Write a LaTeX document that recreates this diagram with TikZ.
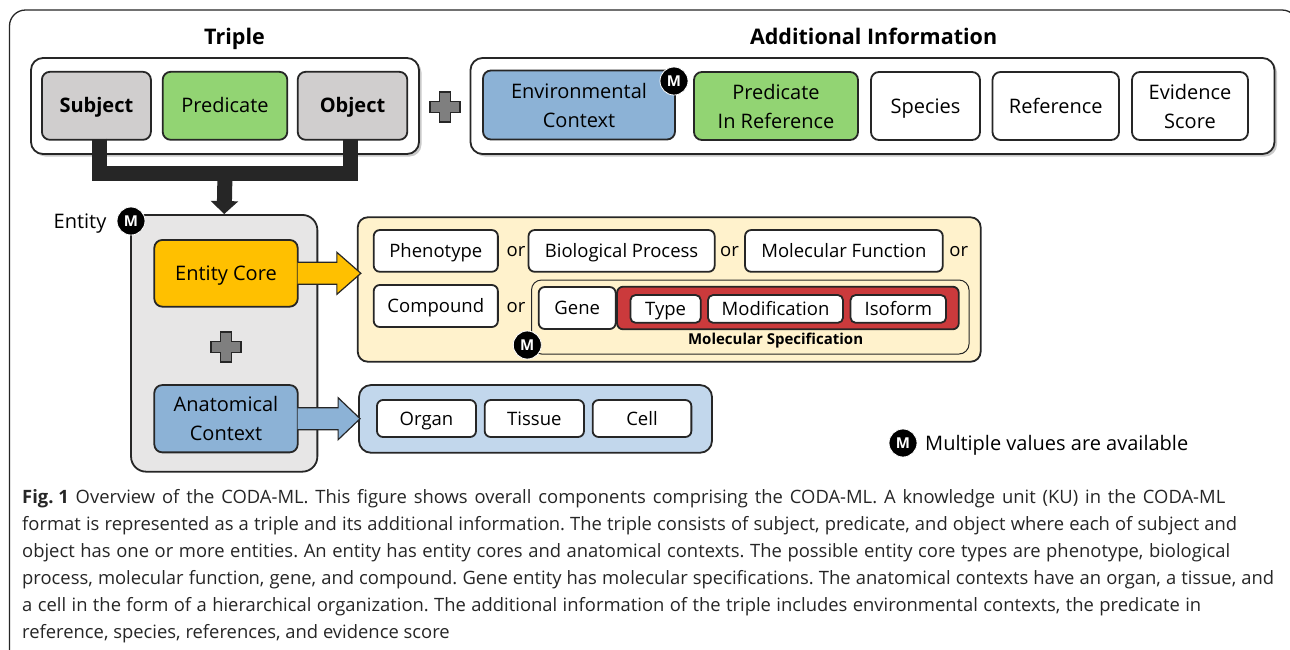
\documentclass[tikz,border=0pt]{standalone}
\usepackage{fontspec}
\setmainfont{Open Sans}
\usetikzlibrary{calc,arrows.meta,shadows}
\definecolor{dk}{RGB}{38,38,38}
\definecolor{gbox}{RGB}{208,206,206}
\definecolor{grn}{RGB}{146,212,115}
\definecolor{blu}{RGB}{140,178,214}
\definecolor{org}{RGB}{255,192,0}
\definecolor{entg}{RGB}{231,230,230}
\definecolor{ylw}{RGB}{255,242,204}
\definecolor{lblu}{RGB}{194,215,236}
\definecolor{rd}{RGB}{203,58,60}
\definecolor{plg}{RGB}{127,127,127}
\frenchspacing
\begin{document}
\begin{tikzpicture}[x=1pt,y=-1pt,
  box/.style={draw=dk, line width=1.8pt, rounded corners=8pt, align=center, inner sep=0pt, font=\fontsize{20}{29}\selectfont},
  oneline/.style={text height=14.3pt, text depth=0pt},
  sbox/.style={box, fill=white, font=\fontsize{18.5}{22}\selectfont, rounded corners=6pt, text height=13.2pt, text depth=0pt},
  mbadge/.style={circle, fill=black, draw=white, line width=0.8pt, minimum size=28pt, inner sep=0pt, text=white, font=\fontsize{15}{15}\selectfont\bfseries},
  ortext/.style={font=\fontsize{18.5}{20}\selectfont, inner sep=0pt, text height=10pt, text depth=0pt},
  title/.style={font=\fontsize{21.5}{24}\selectfont\bfseries, inner sep=0pt, text height=15.4pt, text depth=0pt},
  shad/.style={drop shadow={shadow xshift=2.5pt, shadow yshift=-2.5pt, opacity=0.35, fill=black!60}},
  capline/.style={anchor=base west, inner sep=0pt, font=\fontsize{18.4}{22}\selectfont\frenchspacing, text=black!85},
  plussign/.pic={\filldraw[fill=plg, draw=dk, line width=1.2pt] (-5.5,-15) -- (5.5,-15) -- (5.5,-5.5) -- (15,-5.5) -- (15,5.5) -- (5.5,5.5) -- (5.5,15) -- (-5.5,15) -- (-5.5,5.5) -- (-15,5.5) -- (-15,-5.5) -- (-5.5,-5.5) -- cycle;},
  blockarrow/.style={draw=dk, line width=1.2pt, line join=miter}
]
\useasboundingbox (0,0) rectangle (1290,649);
\fill[white] (0,0) rectangle (1290,649);
% outer frame
\draw[line width=1.3pt, draw=dk, rounded corners=16pt] (9.5,10) rectangle (1298,680);

% titles
\node[title] (ttriple) at (234.5,37) {Triple};
\node[title] (taddl) at (873.6,37) {Additional Information};

% triple group
\node[box, fill=white, shad, minimum width=388pt, minimum height=96pt, rounded corners=12pt] (triple) at (225,106) {};
\coordinate (jn) at (225,173);
\node[box, oneline, fill=gbox, minimum width=109pt, minimum height=68pt, font=\fontsize{20}{29}\selectfont\bfseries] (subject) at (96.4,105.8) {Subject};
\node[box, oneline, fill=grn, minimum width=124.6pt, minimum height=68pt] (predicate) at (225,105.8) {Predicate};
\node[box, oneline, fill=gbox, minimum width=109.6pt, minimum height=68pt, font=\fontsize{20}{29}\selectfont\bfseries] (object) at (352.5,105.8) {Object};

\pic at (445,107) {plussign};

% additional info group
\node[box, fill=white, shad, minimum width=804pt, minimum height=96pt, rounded corners=12pt] (addl) at (872.5,106) {};
\node[box, fill=blu, minimum width=192pt, minimum height=69pt] (env) at (579,105) {Environmental\\Context};
\node[mbadge] (menv) at (674,81) {M};
\node[box, fill=grn, minimum width=164pt, minimum height=68pt] (predref) at (776,106) {Predicate\\In Reference};
\node[box, oneline, fill=white, minimum width=109pt, minimum height=68pt] (species) at (925.5,106) {Species};
\node[box, oneline, fill=white, minimum width=126.5pt, minimum height=68pt] (reference) at (1055.75,106) {Reference};
\node[box, fill=white, minimum width=116pt, minimum height=68pt] (evidence) at (1190,106) {Evidence\\Score};

% entity
\node[box, fill=entg, minimum width=186.3pt, minimum height=256.7pt, rounded corners=15pt] (entity) at (224.2,343.3) {};
\node[inner sep=0pt, oneline, font=\fontsize{20}{24}\selectfont] (entlabel) at (80,221) {Entity};
\node[mbadge] (ment) at (131,221) {M};
\node[box, oneline, fill=org, minimum width=143.4pt, minimum height=66.7pt] (core) at (226,273.3) {Entity Core};
\pic at (226,347) {plussign};
\node[box, fill=blu, minimum width=143.4pt, minimum height=67.3pt] (anat) at (226,418.7) {Anatomical\\Context};

% yellow box
\node[box, fill=ylw, minimum width=622.9pt, minimum height=144.4pt, rounded corners=10pt] (yellow) at (669.2,289.5) {};
\node[sbox, minimum width=124.1pt, minimum height=41.7pt] (pheno) at (435.8,250.9) {Phenotype};
\node[ortext] (or1) at (516,251) {or};
\node[sbox, minimum width=186.1pt, minimum height=41.7pt] (bioproc) at (621.6,250.9) {Biological Process};
\node[ortext] (or2) at (729.5,251) {or};
\node[sbox, minimum width=197.7pt, minimum height=41.7pt] (molfunc) at (843.9,250.9) {Molecular Function};
\node[ortext] (or3) at (958.7,251) {or};
\node[sbox, minimum width=124.1pt, minimum height=42pt] (compound) at (435.8,306) {Compound};
\node[ortext] (or4) at (516,307) {or};
\node[draw=dk, line width=1pt, fill=ylw, rounded corners=10pt, minimum width=437.5pt, minimum height=74pt, inner sep=0pt] (genegrp) at (750.25,317) {};
\node[sbox, minimum width=77pt, minimum height=42pt] (gene) at (577.2,308) {Gene};
\node[box, fill=rd, minimum width=341.7pt, minimum height=42.6pt, rounded corners=6pt] (molspec) at (787.9,308) {};
\node[sbox, minimum width=70.3pt, minimum height=27.7pt, rounded corners=5pt] (type) at (665.6,308.9) {Type};
\node[sbox, minimum width=135pt, minimum height=27.7pt, rounded corners=5pt] (modif) at (775.5,308.9) {Modification};
\node[sbox, minimum width=95.5pt, minimum height=27.7pt, rounded corners=5pt] (isoform) at (898.3,308.9) {Isoform};
\node[inner sep=0pt, text height=10.7pt, text depth=0pt, font=\fontsize{15}{18}\selectfont\bfseries] (molspeclabel) at (775.6,339.5) {Molecular Specification};
\node[mbadge] (mgene) at (527.3,345) {M};

% blue box
\node[box, fill=lblu, minimum width=353pt, minimum height=67.7pt, rounded corners=12pt] (bluebox) at (535.5,418.9) {};
\node[sbox, minimum width=99pt, minimum height=37pt] (organ) at (426.5,418.5) {Organ};
\node[sbox, minimum width=99.3pt, minimum height=37pt] (tissue) at (534.35,418.5) {Tissue};
\node[sbox, minimum width=98.7pt, minimum height=37pt] (cell) at (642,418.5) {Cell};

% block arrows
\filldraw[blockarrow, fill=org] ($(core.east)+(-1,-11)$) -- ($(core.east -| yellow.west)+(-20,-11)$) -- ($(core.east -| yellow.west)+(-20,-21)$) -- ($(core.east -| yellow.west)+(4,0)$) -- ($(core.east -| yellow.west)+(-20,21)$) -- ($(core.east -| yellow.west)+(-20,11)$) -- ($(core.east)+(-1,11)$);
\filldraw[blockarrow, fill=blu] ($(anat.east)+(-1,-11)$) -- ($(anat.east -| bluebox.west)+(-20,-11)$) -- ($(anat.east -| bluebox.west)+(-20,-21)$) -- ($(anat.east -| bluebox.west)+(2,0)$) -- ($(anat.east -| bluebox.west)+(-20,21)$) -- ($(anat.east -| bluebox.west)+(-20,11)$) -- ($(anat.east)+(-1,11)$);

% legend
\node[mbadge] (mleg) at (903,443) {M};
\node[anchor=west, inner sep=0pt, oneline, font=\fontsize{20}{24}\selectfont] (legtext) at (925,443) {Multiple values are available};

% caption
\node[capline] (cap1) at (22,503) {\makebox[1203pt][s]{\textbf{Fig.\hspace{4.8pt}1} Overview of the CODA-ML. This figure shows overall components comprising the CODA-ML. A knowledge unit (KU) in the CODA-ML}};
\node[capline] (cap2) at (22,530) {\makebox[1215pt][s]{format is represented as a triple and its additional information. The triple consists of subject, predicate, and object where each of subject and}};
\node[capline] (cap3) at (22,557) {\makebox[1208pt][s]{object has one or more entities. An entity has entity cores and anatomical contexts. The possible entity core types are phenotype, biological}};
\node[capline] (cap4) at (22,584) {\makebox[1252pt][s]{process, molecular function, gene, and compound. Gene entity has molecular specifications. The anatomical contexts have an organ, a tissue, and}};
\node[capline] (cap5) at (22,611) {\makebox[1179pt][s]{a cell in the form of a hierarchical organization. The additional information of the triple includes environmental contexts, the predicate in}};
\node[capline] (cap6) at (22,638) {reference, species, references, and evidence score};

% thick connector from subject and object to entity
\draw[dk, line width=15pt, line join=miter] ($(subject.south)+(3,-2)$) -- ($(subject.south |- jn)+(3,0)$) -- ($(object.south |- jn)+(-2,0)$) -- ($(object.south)+(-2,-2)$);
\draw[dk, line width=15pt, -{Triangle[width=27pt,length=13pt]}] (jn) -- (entity.north);
\end{tikzpicture}
\end{document}
